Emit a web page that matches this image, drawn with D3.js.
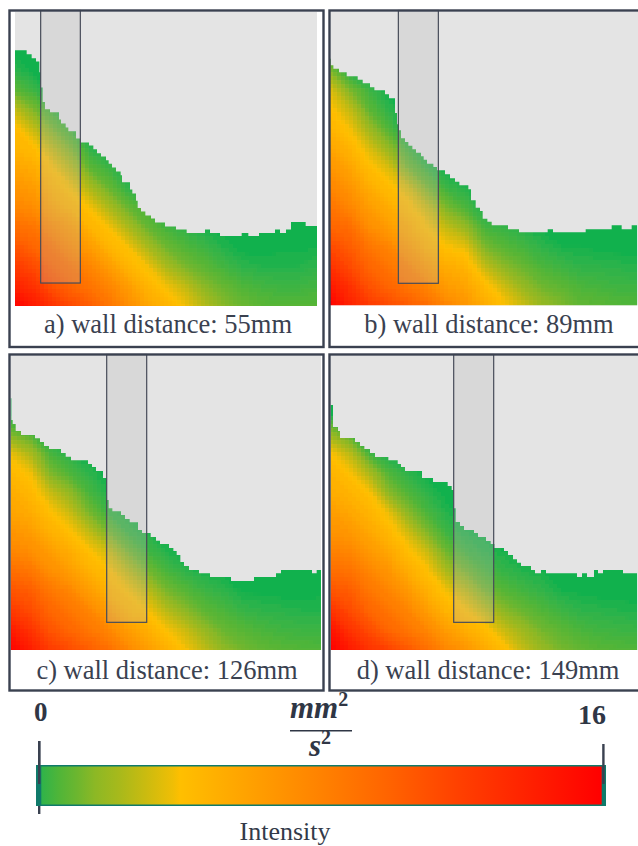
<!DOCTYPE html>
<html><head><meta charset="utf-8">
<script src="https://cdn.jsdelivr.net/npm/d3@7/dist/d3.min.js"></script>
<style>html,body{margin:0;padding:0;background:#fff;overflow:hidden}svg{display:block}text{font-family:"Liberation Serif",serif}</style>
</head><body><svg id="c" width="638" height="846"></svg>
<script>
// Panel captions
const labels = ["a) wall distance: 55mm","b) wall distance: 89mm","c) wall distance: 126mm","d) wall distance: 149mm"];

// Free-surface profile per panel: [column start, depth from top of the window]
const surfaceA = [[45,150],[80,162],[95,174],[108,184],[118,216],[122,262],[128,305],[135,327],[150,336],[177,358],[183,370],[197,382],[205,393],[228,415],[241,427],[267,436],[280,447],[291,459],[303,469],[318,480],[326,491],[336,502],[348,514],[362,525],[366,546],[390,568],[397,580],[408,602],[413,624],[423,634],[436,646],[453,655],[465,667],[495,679],[528,688],[560,699],[615,688],[630,699],[660,708],[725,699],[745,708],[777,699],[825,688],[840,699],[858,688],[873,666],[917,678],[951,678]];
const surfaceB = [[15,175],[17,195],[25,205],[42,216],[65,228],[98,238],[113,249],[135,261],[148,270],[180,282],[192,294],[210,338],[216,372],[222,390],[228,414],[240,425],[250,436],[262,447],[273,457],[288,468],[296,478],[306,490],[325,500],[336,510],[360,522],[375,534],[390,544],[403,555],[430,567],[438,600],[452,622],[465,632],[473,655],[487,664],[500,675],[549,687],[582,696],[668,687],[684,696],[782,687],[860,675],[890,687],[920,675],[936,687],[939,687]];
const surfaceC = [[32,145],[34,210],[38,222],[47,243],[63,255],[105,265],[120,276],[132,288],[147,297],[183,309],[197,320],[213,331],[264,342],[276,351],[288,363],[309,384],[320,450],[326,475],[337,484],[363,495],[375,507],[389,517],[414,540],[426,549],[452,561],[468,572],[480,582],[507,594],[520,603],[530,615],[541,636],[552,648],[567,660],[597,670],[630,681],[693,693],[762,681],[828,670],[843,660],[936,670],[950,660],[963,660]];
const surfaceD = [[17,165],[24,231],[39,243],[45,264],[90,276],[105,288],[118,297],[135,309],[150,321],[190,331],[218,342],[228,351],[240,363],[291,384],[324,396],[368,408],[380,420],[386,475],[392,516],[405,528],[417,540],[447,549],[459,561],[483,573],[497,582],[508,594],[537,603],[549,615],[564,628],[576,638],[588,648],[618,660],[630,670],[648,660],[663,670],[756,681],[771,670],[786,681],[807,660],[819,670],[834,660],[894,670],[939,670]];

// Intensity samples (mm2/s2): one list per column, top to bottom
const fieldA = [
[0,0,0,.3,1,3,4.5,5,6,7,8,9.5,11,12.5,14,16],
[0,0,0,0,.5,1.5,3,4.5,5.5,6.5,7.5,9,10,11.5,13,14.5],
[0,0,0,0,0,.5,1.5,3,4.2,5,6,7.5,9,10,11,13],
[0,0,0,0,0,0,.5,1.5,2.8,4,5,6.5,7.5,9,10,11.5],
[0,0,0,0,0,0,0,.3,1,2.5,4,5,6.5,8,9,10.5],
[0,0,0,0,0,0,0,0,.5,1.2,2.5,4,5,6.5,8,9],
[0,0,0,0,0,0,0,0,.1,.3,1.2,2.5,4,5,6.5,7.5],
[0,0,0,0,0,0,0,0,0,.3,.6,1.2,2.5,4,5,6],
[0,0,0,0,0,0,0,0,0,0,.2,.6,1.3,2.5,4,5],
[0,0,0,0,0,0,0,0,0,0,0,.3,.8,1.5,3,4],
[0,0,0,0,0,0,0,0,0,0,0,.1,.5,1,1.8,2.8],
[0,0,0,0,0,0,0,0,0,0,0,0,.2,.6,1.2,1.8],
[0,0,0,0,0,0,0,0,0,0,0,0,0,.3,.8,1.3],
[0,0,0,0,0,0,0,0,0,0,0,0,0,.2,.6,1],
[0,0,0,0,0,0,0,0,0,0,0,0,.05,.2,.5,.9],
[0,0,0,0,0,0,0,0,0,0,0,0,.05,.2,.5,.9],
[0,0,0,0,0,0,0,0,0,0,0,0,.1,.3,.6,.9]];
const fieldB = [
[0,0,0,1.5,3.5,4.3,5,6,7,8,9,10,11.5,13,14.5,16],
[0,0,0,0,1.5,3,4,5,6,7,8,9.5,10.5,11.5,13,14],
[0,0,0,0,.5,1,2.2,3.5,4.5,5.5,6.5,7.5,9,10,11,12.5],
[0,0,0,0,0,.3,.8,2,3.5,4.5,5.5,6.5,8,9,10,11.5],
[0,0,0,0,0,0,0,.6,1.5,3.5,4.5,5.5,6.5,8,9,10.5],
[0,0,0,0,0,0,0,0,.5,1.5,3.2,4.2,5.2,6.5,8,9.5],
[0,0,0,0,0,0,0,0,0,.5,1.5,3,4.2,5.5,6.5,8],
[0,0,0,0,0,0,0,0,0,.2,.7,2,3.7,5,6,7],
[0,0,0,0,0,0,0,0,0,0,.1,.6,1.5,3,4.6,5.5],
[0,0,0,0,0,0,0,0,0,0,0,.4,.9,1.8,3.2,4.3],
[0,0,0,0,0,0,0,0,0,0,0,.2,.6,1.2,2,3.2],
[0,0,0,0,0,0,0,0,0,0,0,0,.3,.7,1.3,2.1],
[0,0,0,0,0,0,0,0,0,0,0,0,.1,.5,1,1.6],
[0,0,0,0,0,0,0,0,0,0,0,0,.1,.3,.7,1.1],
[0,0,0,0,0,0,0,0,0,0,0,0,0,.3,.6,1],
[0,0,0,0,0,0,0,0,0,0,0,0,0,.25,.5,.85],
[0,0,0,0,0,0,0,0,0,0,0,0,0,.2,.5,.8]];
const fieldC = [
[0,0,0,0,1.5,3.8,4.7,5.5,6,7,8,9.5,11,12.5,14.5,16],
[0,0,0,0,.8,2.5,4,4.8,5.5,6.5,7.5,9,10.5,11.5,13,14.3],
[0,0,0,0,0,.7,1.6,3.2,4.4,5.3,6.5,7.5,9,10,11,12.5],
[0,0,0,0,0,.2,.8,2,3.2,4.4,5.5,6.5,8,9,10,11.5],
[0,0,0,0,0,0,.3,.7,1.5,3,4.3,5.3,6.5,8,9,10.5],
[0,0,0,0,0,0,0,.2,.5,1.5,3.3,4.3,5.2,6.5,8,9.5],
[0,0,0,0,0,0,0,0,.2,.5,1.5,3,4.2,5,6.5,8],
[0,0,0,0,0,0,0,0,0,.2,.6,1.5,3,4.2,5.5,6.5],
[0,0,0,0,0,0,0,0,0,0,.2,.7,1.5,2.8,4.2,5.3],
[0,0,0,0,0,0,0,0,0,0,0,.3,.9,1.8,3.2,4.1],
[0,0,0,0,0,0,0,0,0,0,0,.1,.5,1,2,3],
[0,0,0,0,0,0,0,0,0,0,0,0,.3,.7,1.2,1.9],
[0,0,0,0,0,0,0,0,0,0,0,0,.05,.4,.9,1.4],
[0,0,0,0,0,0,0,0,0,0,0,0,.05,.3,.7,1.1],
[0,0,0,0,0,0,0,0,0,0,0,0,0,.25,.55,.95],
[0,0,0,0,0,0,0,0,0,0,0,0,0,.2,.5,.85],
[0,0,0,0,0,0,0,0,0,0,0,0,.05,.2,.5,.8]];
const fieldD = [
[0,0,0,0,2,4.2,5,5.5,6.5,7,8.2,9.5,11,13,15,16],
[0,0,0,0,.8,2.8,4.2,5,5.8,6.8,8,9.2,10.5,11.5,13,14.5],
[0,0,0,0,0,.6,2.5,4.2,5,5.8,6.8,8,9,10,11.5,13],
[0,0,0,0,0,0,.8,1.8,3.8,4.8,5.8,7,8,9,10,12],
[0,0,0,0,0,0,.3,.8,1.8,3.3,4.5,5.5,6.8,8,9,10.8],
[0,0,0,0,0,0,0,.3,.7,1.6,3.2,4.3,5.3,6.5,8,9.5],
[0,0,0,0,0,0,0,0,.2,.5,1.3,2.5,4,5,6.5,8],
[0,0,0,0,0,0,0,0,0,.2,.6,1.5,3,4.3,5.5,7],
[0,0,0,0,0,0,0,0,0,.1,.3,.7,1.5,3,4.5,5.7],
[0,0,0,0,0,0,0,0,0,0,.1,.4,.9,1.8,3.2,4.5],
[0,0,0,0,0,0,0,0,0,0,0,.2,.6,1.2,2.2,3.1],
[0,0,0,0,0,0,0,0,0,0,0,.1,.35,.8,1.4,2.1],
[0,0,0,0,0,0,0,0,0,0,0,0,.1,.5,1,1.5],
[0,0,0,0,0,0,0,0,0,0,0,0,.05,.3,.7,1.15],
[0,0,0,0,0,0,0,0,0,0,0,0,0,.25,.55,.95],
[0,0,0,0,0,0,0,0,0,0,0,0,0,.2,.5,.85],
[0,0,0,0,0,0,0,0,0,0,0,0,0,.15,.45,.8]];

// Probe window per panel: [from, to, depth]
const probes = [[122,241,849],[220,340,849],[320,440,817],[386,506,817]];

// Colour ramp
const rampValues = [0,.3,.8,1.3,1.8,2.5,3.2,4,4.2,8,10,12,14,16];
const rampColors = ["#0bb14d","#2fb34a","#50b538","#6cb62f","#8cb825","#a8b91b","#c9bb10","#f0be05","#ffbf00","#ff8400","#ff6400","#ff4000","#ff2000","#ff0000"];
const color = d3.scaleLinear().domain(rampValues).range(rampColors).clamp(true);

// Legend
const legendTicks = ["0","16"];
const legendDomain = [0.3,16];

const frames = [
 {box:[9.5,10.5,314,336.5], plot:[15,12,302,294], dx:[45,951], dy:[35,918], surface:surfaceA, field:fieldA, label:[168,333]},
 {box:[329.5,10.5,320,336.5], plot:[330.7,12,307.3,293.3], dx:[17,939], dy:[35,915], surface:surfaceB, field:fieldB, label:[489,333]},
 {box:[9.5,354.5,314,336], plot:[10.7,355.7,310.3,294.3], dx:[32,963], dy:[17,900], surface:surfaceC, field:fieldC, label:[167,679]},
 {box:[329.5,354.5,320,336], plot:[330.7,355.7,307.3,294.3], dx:[17,939], dy:[17,900], surface:surfaceD, field:fieldD, label:[488,679]}
];
const levels = d3.range(0,4,0.1).concat(d3.range(4,16,0.25));
const ink = "#3a4150";
const svg = d3.select("#c");
const defs = svg.append("defs");

// Coarse cell look of the original raster
const fl = defs.append("filter").attr("id","cells").attr("filterUnits","userSpaceOnUse")
  .attr("x",0).attr("y",0).attr("width",638).attr("height",846).attr("color-interpolation-filters","sRGB");
fl.append("feFlood").attr("x",2).attr("y",2).attr("width",1).attr("height",1).attr("flood-color","#000");
fl.append("feComposite").attr("width",4).attr("height",4);
fl.append("feTile").attr("result","dots");
fl.append("feComposite").attr("in","SourceGraphic").attr("in2","dots").attr("operator","in");
fl.append("feMorphology").attr("operator","dilate").attr("radius",2);

frames.forEach((f,k)=>{
  const [px,py,pw,ph] = f.plot;
  const x = d3.scaleLinear().domain(f.dx).range([px,px+pw]);
  const y = d3.scaleLinear().domain(f.dy).range([py,py+ph]);
  const g = svg.append("g");
  g.append("rect").attr("x",px).attr("y",py).attr("width",pw).attr("height",ph).attr("fill","#e4e4e4");

  // water body outline from the surface profile
  const area = d3.area().curve(d3.curveStepAfter).x(d=>x(d[0])).y0(py+ph).y1(d=>y(d[1]));
  defs.append("clipPath").attr("id","w"+k).append("path").attr("d",area(f.surface));

  const nx = f.field.length, ny = f.field[0].length;
  const flat = [];
  for(let j=0;j<ny;j++) for(let i=0;i<nx;i++) flat.push(f.field[i][j]);
  const gx = d3.scaleLinear().domain([0.5,nx-0.5]).range([x(f.dx[0]),x(f.dx[1])]);
  const gy = d3.scaleLinear().domain([0.5,ny-0.5]).range([y(f.dy[0]),y(f.dy[1])]);
  const path = d3.geoPath(d3.geoTransform({point(a,b){this.stream.point(gx(a),gy(b));}}));
  const contours = d3.contours().size([nx,ny]).smooth(true).thresholds(levels)(flat);
  const clip = g.append("g").attr("clip-path",`url(#w${k})`);
  const body = clip.append("g").attr("filter","url(#cells)");
  body.append("rect").attr("x",px-6).attr("y",py-6).attr("width",pw+12).attr("height",ph+12).attr("fill",color(0));
  body.selectAll("path").data(contours).join("path").attr("d",path)
    .attr("fill",(d,i)=>color(i+1<levels.length?(d.value+levels[i+1])/2:16));

  const p = probes[k];
  g.append("rect").attr("x",x(p[0])).attr("y",f.box[1]).attr("width",x(p[1])-x(p[0])).attr("height",y(p[2])-f.box[1])
    .attr("fill","rgb(185,185,185)").attr("fill-opacity",.27).attr("stroke","#474c59").attr("stroke-width",1.2);
  g.append("rect").attr("x",f.box[0]).attr("y",f.box[1]).attr("width",f.box[2]).attr("height",f.box[3])
    .attr("fill","none").attr("stroke",ink).attr("stroke-width",2.4);
  g.append("text").attr("x",f.label[0]).attr("y",f.label[1]).attr("text-anchor","middle")
    .attr("font-size",26.5).attr("fill",ink).text(labels[k]);
});

// Legend
const lg = svg.append("g");
const lx = d3.scaleLinear().domain(legendDomain).range([41.3,601.7]);
const grad = defs.append("linearGradient").attr("id","lg").attr("gradientUnits","userSpaceOnUse")
  .attr("x1",lx(legendDomain[0])).attr("x2",lx(legendDomain[1])).attr("y1",0).attr("y2",0);
grad.selectAll("stop").data(rampValues.filter(v=>v>=legendDomain[0])).join("stop")
  .attr("offset",v=>(v-legendDomain[0])/(legendDomain[1]-legendDomain[0])).attr("stop-color",v=>color(v));
const teal="#0f7a6a";
lg.append("rect").attr("x",38).attr("y",741).attr("width",2.4).attr("height",73).attr("fill",ink);
lg.append("rect").attr("x",36).attr("y",765).attr("width",570).attr("height",41).attr("fill",teal);
lg.append("rect").attr("x",41.3).attr("y",766.5).attr("width",560.4).attr("height",38).attr("fill","url(#lg)");
lg.append("rect").attr("x",38).attr("y",741).attr("width",2.4).attr("height",43).attr("fill",ink);
lg.append("rect").attr("x",602.2).attr("y",744).attr("width",2.4).attr("height",40).attr("fill",ink);
lg.append("text").attr("x",40.7).attr("y",721).attr("text-anchor","middle").attr("font-size",27).attr("font-weight",700).attr("fill","#2f3645").text(legendTicks[0]);
lg.append("text").attr("x",592).attr("y",724).attr("text-anchor","middle").attr("font-size",28).attr("font-weight",700).attr("fill","#2f3645").text(legendTicks[1]);
const mm = lg.append("text").attr("x",290).attr("y",718).attr("font-size",31).attr("font-weight",700).attr("font-style","italic").attr("fill","#2f3645");
mm.append("tspan").text("mm");
mm.append("tspan").attr("dy",-12).attr("font-size",20).attr("font-style","normal").attr("font-weight",700).text("2");
lg.append("line").attr("x1",290).attr("x2",352).attr("y1",730.7).attr("y2",730.7).attr("stroke","#2f3645").attr("stroke-width",1.4);
const ss = lg.append("text").attr("x",309).attr("y",756).attr("font-size",31).attr("font-weight",700).attr("font-style","italic").attr("fill","#2f3645");
ss.append("tspan").text("s");
ss.append("tspan").attr("dy",-12).attr("font-size",20).attr("font-style","normal").attr("font-weight",700).text("2");
lg.append("text").attr("x",285).attr("y",840).attr("text-anchor","middle").attr("font-size",26).attr("fill","#333a49").text("Intensity");
</script></body></html>
